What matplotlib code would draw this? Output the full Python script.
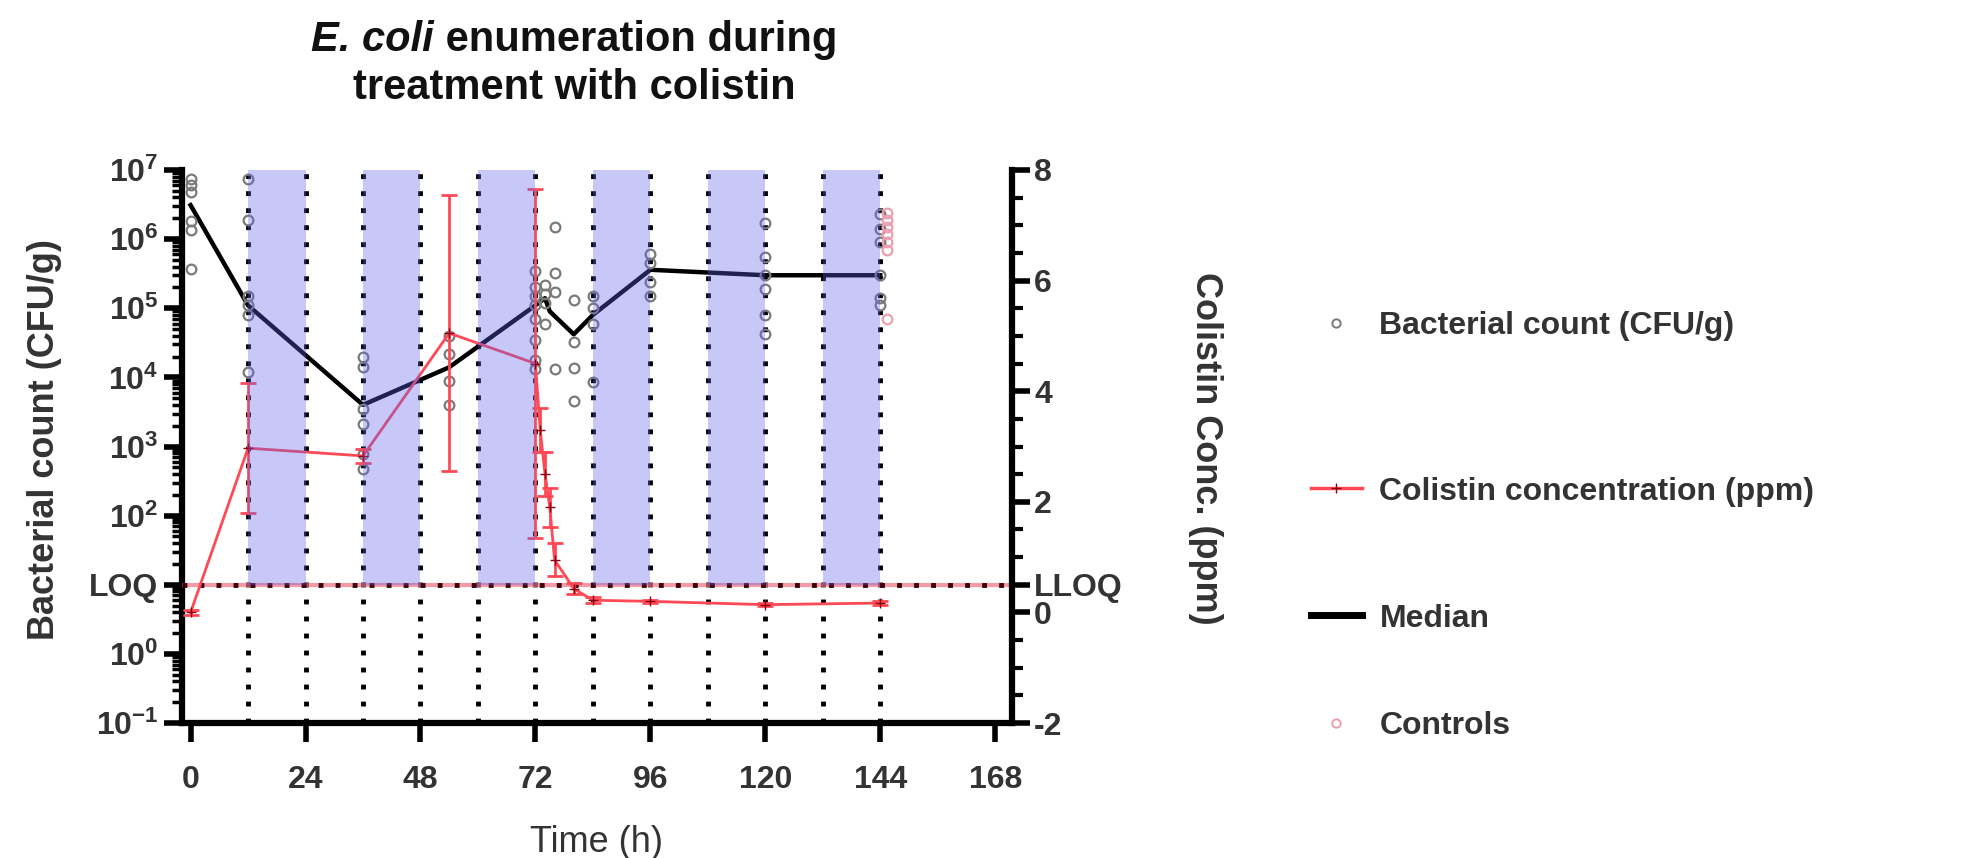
import numpy as np
import matplotlib
matplotlib.use('Agg')
import matplotlib.pyplot as plt
from matplotlib.lines import Line2D
from matplotlib.ticker import LogLocator, MultipleLocator, NullFormatter

plt.rcParams['font.family'] = ['Liberation Sans', 'DejaVu Sans']
plt.rcParams['font.weight'] = 'bold'
plt.rcParams['mathtext.fontset'] = 'custom'
plt.rcParams['mathtext.rm'] = 'Liberation Sans:bold'
plt.rcParams['mathtext.bf'] = 'Liberation Sans:bold'
plt.rcParams['mathtext.it'] = 'Liberation Sans:italic:bold'

# individual counts (CFU/g) per sampling time
bact_time = ([0]*6 + [12]*6 + [36]*6 + [54]*4 + [72]*8 + [74]*4 + [76]*4
             + [80]*4 + [84]*4 + [96]*4 + [120]*6 + [144]*6)
bact_cfu = [7.4e6, 6.0e6, 4.8e6, 1.8e6, 1.35e6, 3.7e5,
            7.4e6, 1.9e6, 1.5e5, 1.1e5, 8.0e4, 1.2e4,
            2.0e4, 1.4e4, 3.5e3, 2.1e3, 7.8e2, 4.7e2,
            4.0e4, 2.2e4, 9.0e3, 4.0e3,
            3.5e5, 2.0e5, 1.5e5, 1.1e5, 7.0e4, 3.5e4, 1.8e4, 1.3e4,
            2.2e5, 1.6e5, 1.2e5, 6.0e4,
            1.5e6, 3.2e5, 1.7e5, 1.3e4,
            1.3e5, 3.3e4, 1.35e4, 4.5e3,
            1.5e5, 1.0e5, 6.0e4, 8.7e3,
            6.0e5, 4.5e5, 2.4e5, 1.5e5,
            1.7e6, 5.5e5, 3.0e5, 1.9e5, 8.0e4, 4.3e4,
            2.3e6, 1.4e6, 9.0e5, 3.0e5, 1.4e5, 1.1e5]

# untreated controls
ctrl_time = [145.5]*7
ctrl_cfu = [2.4e6, 1.9e6, 1.5e6, 1.2e6, 9.0e5, 7.0e5, 7.0e4]

# median count
median_time = [0, 12, 36, 54, 72, 74, 75, 80, 84, 96, 120, 144]
median_cfu = [3.1e6, 1.1e5, 4.0e3, 1.4e4, 1.1e5, 1.4e5, 9.0e4, 4.2e4, 8.0e4, 3.6e5, 3.0e5, 3.0e5]

# colistin concentration (ppm), mean and SD
col_time = [0, 12, 36, 54, 72, 73, 74, 75, 76, 80, 84, 96, 120, 144]
col_ppm = [0.0, 2.97, 2.83, 5.05, 4.5, 3.3, 2.5, 1.9, 0.95, 0.43, 0.22, 0.2, 0.14, 0.17]
col_sd = [0.05, 1.17, 0.12, 2.5, 3.15, 0.4, 0.4, 0.35, 0.3, 0.1, 0.05, 0.03, 0.03, 0.03]

# treatment windows and sampling grid
dose_windows = [(12, 24), (36, 48), (60, 72), (84, 96), (108, 120), (132, 144)]
sample_lines = [12, 24, 36, 48, 60, 72, 84, 96, 108, 120, 132, 144]
loq_cfu = 10
lloq_ppm = 0.5

txt = '#333333'
fig = plt.figure(figsize=(19.8, 8.58), dpi=100)
ax = fig.add_axes([0.0919, 0.1573, 0.5111 - 0.0919, 0.8019 - 0.1573])
ax2 = ax.twinx()

dots = (0, (1, 2.5))
for t in sample_lines:
    ax.axvline(t, color='black', lw=3.5, ls=dots, dash_capstyle='butt', zorder=1)

ax.plot(median_time, median_cfu, color='black', lw=3.2, zorder=3)
ax.plot(bact_time, bact_cfu, 'o', mfc='none', mec='#7a7a7a', ms=7, mew=1.6, zorder=4)
ax.plot(ctrl_time, ctrl_cfu, 'o', mfc='none', mec='#eaa0b0', ms=7, mew=1.6, zorder=4)

ax.set_yscale('log')
ax.set_ylim(0.1, 1e7)
ax.set_xlim(-1.8, 171.5)

# colistin and detection limits on the right axis
ax2.set_ylim(-2, 8)
ax2.axhline(lloq_ppm, color='#f07080', lw=3, alpha=0.7, zorder=2)
ax2.axhline(lloq_ppm, color='#3a0010', lw=3.5, ls=dots, dash_capstyle='butt', zorder=3)
ax2.errorbar(col_time, col_ppm, yerr=col_sd, color='#ff4a55', ecolor='#ff4a55',
             lw=2, elinewidth=2, capsize=6, capthick=2, marker='+', ms=7,
             mec='#8b0010', zorder=4)
for a, b in dose_windows:
    ax2.fill_between([a, b], lloq_ppm, 8, color=(0.38, 0.38, 0.92), alpha=0.35,
                     lw=0, zorder=10)

# spines and ticks
for s in ['top', 'right']:
    ax.spines[s].set_visible(False)
for s in ['top', 'left', 'bottom']:
    ax2.spines[s].set_visible(False)
ax.spines['left'].set_linewidth(4.5)
ax.spines['bottom'].set_linewidth(4.5)
ax2.spines['right'].set_linewidth(4.5)

ax.set_xticks([0, 24, 48, 72, 96, 120, 144, 168])
ax.tick_params(axis='x', length=14, width=4, labelsize=23, labelcolor=txt, pad=16)

ax.set_yticks([1e-1, 1, loq_cfu, 1e2, 1e3, 1e4, 1e5, 1e6, 1e7])
ax.set_yticklabels([r'$10^{-1}$', r'$10^{0}$', 'LOQ', r'$10^{2}$', r'$10^{3}$',
                    r'$10^{4}$', r'$10^{5}$', r'$10^{6}$', r'$10^{7}$'])
ax.yaxis.set_minor_locator(LogLocator(base=10, subs=np.arange(2, 10)))
ax.yaxis.set_minor_formatter(NullFormatter())
ax.tick_params(axis='y', which='major', length=13, width=4, labelsize=23,
               labelcolor=txt, pad=4)
ax.tick_params(axis='y', which='minor', length=7, width=2.5)

ax2.set_yticks([-2, 0, lloq_ppm, 2, 4, 6, 8])
ax2.set_yticklabels(['-2', '0', 'LLOQ', '2', '4', '6', '8'])
ax2.yaxis.set_minor_locator(MultipleLocator(0.5))
ax2.tick_params(axis='y', which='major', length=13, width=4, labelsize=23,
                labelcolor=txt, pad=3)
ax2.tick_params(axis='y', which='minor', length=8, width=3)

ax.set_xlabel('Time (h)', fontsize=26, color=txt, labelpad=22)
fig.text(0.0227, 0.488, 'Bacterial count (CFU/g)', rotation=90, ha='center',
         va='center', fontsize=26, color=txt)
fig.text(0.609, 0.478, 'Colistin Conc. (ppm)', rotation=270, ha='center',
         va='center', fontsize=26, color=txt)

# two-line title with italic species name
r = fig.canvas.get_renderer()
W = fig.bbox.width
t1 = fig.text(0, 0.953, 'E. coli', style='italic', fontsize=30, color='#111111',
              va='center')
t2 = fig.text(0, 0.953, ' enumeration during', fontsize=30, color='#111111',
              va='center')
w1 = t1.get_window_extent(r).width
w2 = t2.get_window_extent(r).width
x0 = 0.29 * W - (w1 + w2) / 2
t1.set_x(x0 / W)
t2.set_x((x0 + w1) / W)
fig.text(0.29, 0.898, 'treatment with colistin', ha='center', va='center',
         fontsize=30, color='#111111')

# legend entries, spaced individually
entries = [
    (Line2D([], [], ls='none', marker='o', mfc='none', mec='#7a7a7a', ms=6, mew=1.4),
     'Bacterial count (CFU/g)', 0.620),
    (Line2D([], [], color='#ff4a55', lw=2.5, marker='+', ms=7, mec='#8b0010'),
     'Colistin concentration (ppm)', 0.427),
    (Line2D([], [], color='black', lw=5),
     'Median', 0.279),
    (Line2D([], [], ls='none', marker='o', mfc='none', mec='#eaa0b0', ms=6, mew=1.4),
     'Controls', 0.154),
]
for h, lab, y in entries:
    leg = fig.legend(handles=[h], labels=[lab], loc='center left',
                     bbox_to_anchor=(0.662, y), frameon=False, fontsize=23,
                     handlelength=1.6, handletextpad=0.55, borderpad=0,
                     borderaxespad=0)
    for tx in leg.get_texts():
        tx.set_color(txt)

fig.savefig('out.png', dpi=100)
